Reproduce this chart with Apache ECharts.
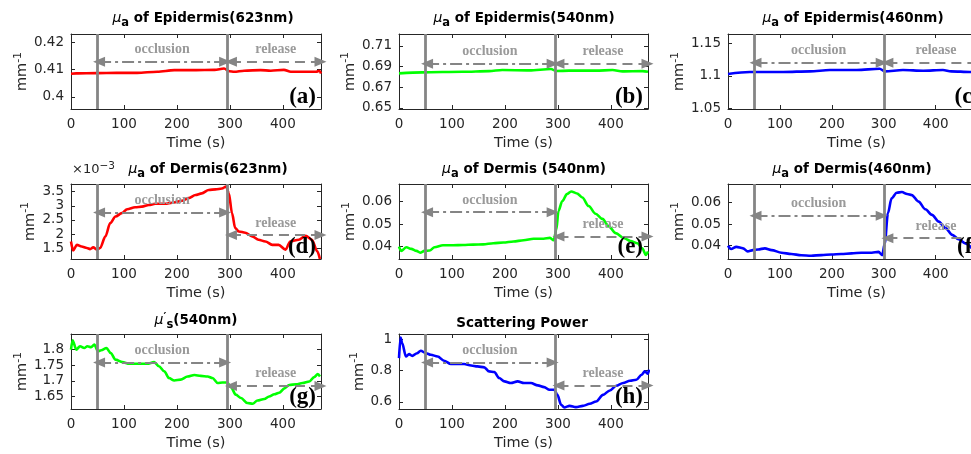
<!DOCTYPE html>
<html>
<head>
<meta charset="utf-8">
<script src="https://cdn.jsdelivr.net/npm/echarts@6/dist/echarts.min.js"></script>
<style>
  html, body { margin: 0; padding: 0; background: #fff; }
  #chart { width: 971px; height: 454px; }
</style>
</head>
<body>
<div id="chart"></div>
<script>
// values (time in s)
const xTicks = [0, 100, 200, 300, 400];
const occlusionAt = 50;
const releaseAt = [295, 294, 300]; // per column

const epi623T = [0, 10, 48, 86, 125, 163, 195, 233, 271, 289, 299, 308, 327, 358, 377, 402, 415, 441, 463, 469, 472];
const epi623 = [0.4085, 0.4086, 0.4087, 0.4088, 0.4088, 0.4092, 0.4098, 0.4098, 0.4099, 0.4104, 0.4094, 0.4092, 0.4096, 0.4098, 0.4096, 0.4099, 0.4092, 0.4092, 0.4092, 0.4096, 0.4086];

const epi540T = [0, 44, 120, 170, 195, 246, 287, 296, 321, 372, 403, 422, 460, 470];
const epi540 = [0.6835, 0.6845, 0.685, 0.6857, 0.6867, 0.6864, 0.6877, 0.6858, 0.6861, 0.6861, 0.6867, 0.6854, 0.6857, 0.685];

const epi460T = [0, 42, 106, 158, 196, 248, 292, 302, 337, 376, 414, 430, 466, 472];
const epi460 = [1.103, 1.106, 1.106, 1.107, 1.109, 1.109, 1.111, 1.107, 1.109, 1.108, 1.109, 1.107, 1.106, 1.106];

// dermis 623nm, in units of 1e-3
const der623T = [0, 4, 11, 20, 30, 36, 42, 49, 55, 65, 74, 84, 96, 106, 121, 134, 147, 159, 178, 191, 210, 222, 235, 247, 260, 273, 285, 293, 298, 304, 310, 317, 329, 342, 354, 367, 380, 392, 405, 414, 430, 443, 455, 465, 470];
const der623 = [1.74, 1.42, 1.62, 1.56, 1.51, 1.47, 1.53, 1.45, 1.51, 1.92, 2.39, 2.62, 2.74, 2.88, 2.95, 2.97, 3.03, 3.07, 3.07, 3.11, 3.18, 3.27, 3.38, 3.44, 3.56, 3.58, 3.61, 3.68, 3.44, 2.74, 2.21, 2.09, 2.05, 1.92, 1.80, 1.74, 1.62, 1.62, 1.45, 1.74, 1.80, 1.94, 1.80, 1.39, 1.12];

const der540T = [0, 4, 14, 23, 33, 40, 48, 58, 67, 83, 102, 121, 140, 159, 178, 197, 216, 235, 254, 273, 285, 292, 297, 301, 308, 317, 325, 336, 346, 358, 371, 384, 396, 409, 425, 437, 450, 459, 466, 470];
const der540 = [0.0400, 0.0381, 0.0397, 0.0390, 0.0381, 0.0373, 0.0381, 0.0383, 0.0397, 0.0406, 0.0406, 0.0407, 0.0409, 0.0410, 0.0415, 0.0418, 0.0423, 0.0428, 0.0435, 0.0435, 0.0439, 0.0428, 0.0475, 0.0558, 0.0601, 0.0633, 0.0645, 0.0636, 0.0618, 0.0580, 0.0546, 0.0523, 0.0490, 0.0460, 0.0437, 0.0425, 0.0415, 0.0393, 0.0363, 0.0378];

const der460T = [0, 6, 16, 29, 38, 48, 58, 71, 84, 103, 122, 141, 160, 180, 199, 218, 238, 257, 277, 290, 297, 302, 308, 315, 325, 335, 345, 354, 367, 380, 393, 406, 419, 432, 444, 457, 470];
const der460 = [0.0400, 0.0385, 0.0395, 0.0388, 0.0374, 0.0380, 0.0383, 0.0388, 0.0380, 0.0368, 0.0362, 0.0356, 0.0354, 0.0357, 0.0360, 0.0362, 0.0365, 0.0368, 0.0368, 0.0372, 0.0357, 0.0411, 0.0549, 0.0618, 0.0644, 0.0647, 0.0638, 0.0633, 0.0603, 0.0568, 0.0542, 0.0511, 0.0481, 0.0450, 0.0430, 0.0411, 0.0388];

const mus540T = [0, 3, 10, 17, 25, 31, 38, 44, 51, 57, 67, 75, 84, 97, 110, 125, 144, 157, 166, 176, 185, 195, 207, 220, 233, 245, 258, 267, 277, 286, 295, 302, 311, 321, 333, 343, 352, 365, 374, 384, 393, 403, 412, 425, 437, 450, 459, 466, 470];
const mus540 = [1.80, 1.83, 1.80, 1.811, 1.805, 1.811, 1.808, 1.816, 1.795, 1.798, 1.805, 1.789, 1.768, 1.760, 1.755, 1.755, 1.755, 1.760, 1.747, 1.731, 1.709, 1.701, 1.704, 1.714, 1.719, 1.716, 1.714, 1.709, 1.693, 1.695, 1.695, 1.680, 1.656, 1.645, 1.629, 1.627, 1.637, 1.642, 1.650, 1.657, 1.662, 1.676, 1.687, 1.689, 1.693, 1.698, 1.712, 1.722, 1.714];

const spT = [0, 3, 6, 13, 19, 25, 34, 41, 51, 60, 73, 85, 98, 110, 123, 136, 148, 161, 170, 180, 189, 199, 211, 224, 236, 249, 262, 274, 284, 293, 299, 306, 312, 322, 334, 347, 360, 372, 385, 398, 410, 423, 436, 448, 458, 464, 470, 472];
const sp = [0.879, 1.01, 0.974, 0.889, 0.904, 0.893, 0.910, 0.925, 0.910, 0.900, 0.889, 0.862, 0.841, 0.841, 0.841, 0.832, 0.826, 0.820, 0.794, 0.790, 0.752, 0.731, 0.720, 0.731, 0.720, 0.720, 0.705, 0.694, 0.677, 0.677, 0.645, 0.582, 0.565, 0.575, 0.567, 0.575, 0.588, 0.603, 0.645, 0.673, 0.703, 0.720, 0.735, 0.741, 0.773, 0.794, 0.779, 0.805];

// layout
const colLeft = [71, 399, 728];
const colWidth = [250, 249, 257];
const colMax = [472, 470, 495];
const rowTop = [34, 184, 334];
const rowHeight = 75;

const RED = '#ff0000', GREEN = '#00ff00', BLUE = '#0000ff';
const INK = '#262626';
const GREY = '#858585';

const panels = [
  { tag: '(a)', row: 0, col: 0, t: epi623T, v: epi623, color: RED, yMin: 0.3956, yMax: 0.423, yTicks: [0.4, 0.41, 0.42],
    title: '{mu|μ}{sub|a}{t| of Epidermis(623nm)}', titleX: 203, titleY: 18.5, occY: 0.4129, relY: 0.4129, nameGap: 36 },
  { tag: '(b)', row: 0, col: 1, t: epi540T, v: epi540, color: GREEN, yMin: 0.649, yMax: 0.7216, yTicks: [0.65, 0.67, 0.69, 0.71],
    title: '{mu|μ}{sub|a}{t| of Epidermis(540nm)}', titleX: 524, titleY: 18.5, occY: 0.6929, relY: 0.6929, nameGap: 39 },
  { tag: '(c)', row: 0, col: 2, t: epi460T, v: epi460, color: BLUE, yMin: 1.0495, yMax: 1.164, yTicks: [1.05, 1.1, 1.15],
    title: '{mu|μ}{sub|a}{t| of Epidermis(460nm)}', titleX: 853, titleY: 18.5, occY: 1.12, relY: 1.12, nameGap: 38 },
  { tag: '(d)', row: 1, col: 0, t: der623T, v: der623, color: RED, yMin: 1.12, yMax: 3.77, yTicks: [1.5, 2, 2.5, 3, 3.5],
    title: '{mu|μ}{sub|a}{t| of Dermis(623nm)}', titleX: 208, titleY: 169.5, occY: 2.76, relY: 1.97, nameGap: 31 },
  { tag: '(e)', row: 1, col: 1, t: der540T, v: der540, color: GREEN, yMin: 0.0345, yMax: 0.0678, yTicks: [0.04, 0.05, 0.06],
    title: '{mu|μ}{sub|a}{t| of Dermis (540nm)}', titleX: 524, titleY: 169.5, occY: 0.0553, relY: 0.0445, nameGap: 38 },
  { tag: '(f)', row: 1, col: 2, t: der460T, v: der460, color: BLUE, yMin: 0.0339, yMax: 0.0684, yTicks: [0.04, 0.05, 0.06],
    title: '{mu|μ}{sub|a}{t| of Dermis(460nm)}', titleX: 852, titleY: 169.5, occY: 0.0538, relY: 0.0435, nameGap: 38 },
  { tag: '(g)', row: 2, col: 0, t: mus540T, v: mus540, color: GREEN, yMin: 1.61, yMax: 1.85, yTicks: [1.65, 1.7, 1.75, 1.8],
    title: '{mu|μ}{pr|′}{sub|s}{t|(540nm)}', titleX: 196, titleY: 320, occY: 1.759, relY: 1.684, nameGap: 38 },
  { tag: '(h)', row: 2, col: 1, t: spT, v: sp, color: BLUE, yMin: 0.555, yMax: 1.032, yTicks: [0.6, 0.8, 1],
    title: '{t|Scattering Power}', titleX: 522, titleY: 323, occY: 0.851, relY: 0.704, nameGap: 28 }
];

const SANS = 'DejaVu Sans';
const SERIF = 'Liberation Serif';

const titleRich = {
  t: { fontFamily: SANS, fontWeight: 'bold', fontSize: 13.5, lineHeight: 16, fill: '#000' },
  mu: { fontFamily: SANS, fontStyle: 'italic', fontSize: 14, lineHeight: 16, fill: '#000' },
  sub: { fontFamily: SANS, fontWeight: 'bold', fontSize: 11.5, lineHeight: 12, padding: [10, 0, 0, 0], fill: '#000' },
  pr: { fontFamily: SANS, fontWeight: 'bold', fontSize: 11, lineHeight: 12, padding: [0, 0, 6, 0], fill: '#000' }
};

const grids = [], xAxes = [], yAxes = [], series = [], graphics = [];

panels.forEach((p, i) => {
  const left = colLeft[p.col], top = rowTop[p.row], width = colWidth[p.col];
  const xMax = colMax[p.col];
  const rel = releaseAt[p.col];
  grids.push({ left, top, width, height: rowHeight, containLabel: false, outerBoundsMode: 'none' });

  const tickStyle = { color: INK, width: 1 };
  xAxes.push({
    gridIndex: i, type: 'value', min: 0, max: xMax, position: 'bottom',
    axisLine: { show: true, onZero: false, lineStyle: tickStyle },
    axisTick: { show: true, inside: true, length: 4, customValues: xTicks, lineStyle: tickStyle },
    axisLabel: { customValues: xTicks, color: INK, fontFamily: SANS, fontSize: 13.5, margin: 8 },
    splitLine: { show: false },
    name: 'Time (s)', nameLocation: 'middle', nameGap: 27,
    nameTextStyle: { color: INK, fontFamily: SANS, fontSize: 14.5 }
  });
  xAxes.push({
    gridIndex: i, type: 'value', min: 0, max: xMax, position: 'top',
    axisLine: { show: true, onZero: false, lineStyle: tickStyle },
    axisTick: { show: true, inside: true, length: 4, customValues: xTicks, lineStyle: tickStyle },
    axisLabel: { show: false }, splitLine: { show: false }
  });
  yAxes.push({
    gridIndex: i, type: 'value', min: p.yMin, max: p.yMax, position: 'left',
    axisLine: { show: true, onZero: false, lineStyle: tickStyle },
    axisTick: { show: true, inside: true, length: 4, customValues: p.yTicks, lineStyle: tickStyle },
    axisLabel: { customValues: p.yTicks, color: INK, fontFamily: SANS, fontSize: 13.5, margin: 7 },
    splitLine: { show: false },
    name: '{t|mm}{s|-1}', nameLocation: 'middle', nameRotate: 90, nameGap: p.nameGap,
    nameTextStyle: {
      color: INK,
      rich: {
        t: { fontFamily: SANS, fontSize: 14.5, color: INK },
        s: { fontFamily: SANS, fontSize: 11, color: INK, padding: [0, 0, 9, 0] }
      }
    }
  });
  yAxes.push({
    gridIndex: i, type: 'value', min: p.yMin, max: p.yMax, position: 'right',
    axisLine: { show: true, onZero: false, lineStyle: tickStyle },
    axisTick: { show: true, inside: true, length: 4, customValues: p.yTicks, lineStyle: tickStyle },
    axisLabel: { show: false }, splitLine: { show: false }
  });

  const arrowEnds = (a, b, y, lineStyle, text) => [
    {
      coord: [a, y], symbol: 'triangle', symbolSize: [10, 12], lineStyle,
      label: {
        show: true, formatter: text, position: 'insideMiddleTop', distance: 5,
        color: '#9a9a9a', fontFamily: SERIF, fontWeight: 'bold', fontSize: 14
      }
    },
    { coord: [b, y], symbol: 'triangle', symbolSize: [10, 12] }
  ];
  const vLine = { color: GREY, width: 2.8, type: 'solid' };

  series.push({
    type: 'line',
    xAxisIndex: 2 * i, yAxisIndex: 2 * i,
    data: p.t.map((t, k) => [t, p.v[k]]),
    showSymbol: false, smooth: 0.3, smoothMonotone: 'x',
    lineStyle: { color: p.color, width: 2.6 }, itemStyle: { color: p.color },
    clip: true, silent: true,
    markLine: {
      silent: true, animation: false, symbol: ['none', 'none'],
      label: { show: false },
      itemStyle: { color: GREY },
      data: [
        { xAxis: occlusionAt, lineStyle: vLine },
        { xAxis: rel, lineStyle: vLine },
        arrowEnds(occlusionAt + 3, rel - 4, p.occY, { color: GREY, width: 2.2, type: [12, 4, 3, 4] }, 'occlusion'),
        arrowEnds(rel + 7, xMax - 1, p.relY, { color: GREY, width: 2.2, type: [10, 6] }, 'release')
      ]
    }
  });

  graphics.push({
    type: 'text', z: 100, x: p.titleX, y: p.titleY,
    style: { text: p.title, rich: titleRich, align: 'center', verticalAlign: 'middle' }
  });
  graphics.push({
    type: 'text', z: 100, x: left + width - 5, y: top + rowHeight,
    style: { text: p.tag, fill: '#000', font: 'bold 23px "Liberation Serif"', align: 'right', verticalAlign: 'bottom' }
  });
});

// exponent label of panel (d)
graphics.push({
  type: 'text', z: 100, x: colLeft[0] + 1, y: 170,
  style: {
    text: '{t|×10}{s|−3}', align: 'left', verticalAlign: 'middle',
    rich: {
      t: { fontFamily: SANS, fontSize: 13, fill: INK },
      s: { fontFamily: SANS, fontSize: 10.5, fill: INK, padding: [0, 0, 8, 0] }
    }
  }
});

const chart = echarts.init(document.getElementById('chart'), null, { renderer: 'canvas' });
chart.setOption({
  animation: false,
  backgroundColor: '#fff',
  grid: grids,
  xAxis: xAxes,
  yAxis: yAxes,
  series,
  graphic: graphics
});
</script>
</body>
</html>
